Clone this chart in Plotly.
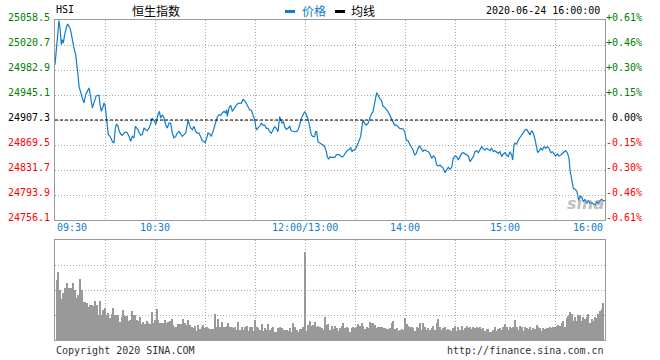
import plotly.graph_objects as go

# ---------------- data ----------------
# minute index from 09:30 (0) to 16:00 (330), lunch break removed (12:00 == 13:00 == 150)
minutes = [0, 1.0, 1.8, 2.4, 3.0, 3.4, 3.8, 4.4, 5.0, 5.8, 6.4, 7.0, 7.6, 8.4, 9.0, 9.4, 10.4, 11.4, 12.4,
           13.4, 13.8, 14.4, 15.4, 16.4, 17.4, 18.4, 19.4, 20.4, 21.0, 21.8, 22.4, 23.0, 23.8, 24.6, 25.4,
           26.4, 27.0, 27.8, 28.6, 29.4, 30.0, 30.6, 31.4, 32.0, 33.0, 33.8, 34.6, 35.4, 36.2, 37.0, 37.8,
           38.6, 39.4, 40.4, 41.4, 42.4, 43.4, 44.4, 45.4, 46.4, 47.4, 48.2, 49.0, 49.8, 50.6, 51.4, 52.4,
           53.4, 54.4, 55.4, 56.4, 57.4, 58.2, 59.0, 59.8, 60.4, 61.0, 61.8, 62.6, 63.4, 64.4, 65.4, 66.4,
           67.4, 68.4, 69.4, 70.4, 71.4, 72.4, 73.4, 74.4, 75.4, 76.4, 77.4, 78.4, 79.4, 80.0, 80.6, 81.4,
           82.4, 83.4, 84.4, 85.4, 86.4, 87.4, 88.4, 89.4, 90.0, 91.0, 91.8, 92.8, 93.8, 94.8, 95.8, 96.6,
           97.4, 98.4, 99.4, 100.4, 101.4, 102.4, 103.0, 103.4, 104.4, 105.4, 106.4, 107.4, 108.4, 109.4,
           110.6, 111.8, 112.8, 113.8, 114.8, 115.8, 116.8, 117.8, 118.8, 119.8, 120.8, 121.8, 122.8, 123.8,
           124.8, 125.8, 126.8, 127.8, 128.8, 129.8, 130.8, 131.8, 132.8, 133.8, 134.8, 135.4, 136.2, 137.0,
           137.8, 138.8, 139.8, 140.8, 141.4, 142.2, 143.0, 143.8, 144.8, 145.8, 146.8, 147.8, 148.8, 149.8,
           150.4, 151.2, 152.0, 152.8, 153.8, 154.8, 155.8, 156.4, 157.0, 157.8, 158.8, 159.8, 160.8, 161.8,
           162.8, 163.4, 164.2, 165.0, 165.8, 166.8, 167.8, 168.8, 169.8, 170.8, 171.8, 172.8, 173.8, 174.8,
           175.8, 176.8, 177.4, 178.2, 178.8, 179.8, 180.8, 181.8, 182.8, 183.4, 184.2, 184.8, 185.8, 186.8,
           187.8, 188.8, 189.8, 190.8, 191.8, 192.4, 193.0, 193.8, 194.8, 195.8, 196.8, 197.8, 198.8, 199.8,
           200.8, 201.8, 202.8, 203.8, 204.8, 205.8, 206.8, 207.8, 208.8, 209.8, 210.8, 211.8, 212.8, 213.8,
           214.8, 215.8, 216.8, 217.8, 218.8, 219.8, 220.8, 221, 222, 223, 224, 225, 226, 227, 228, 229, 230,
           231, 232, 233, 234, 235, 236, 237, 238, 239, 240, 241, 242, 243, 244, 245, 246, 247, 248, 249, 250,
           251, 252, 253, 254, 255, 256, 257, 258, 259, 260, 261, 262, 263, 264, 265, 266, 267, 268, 269, 270,
           271, 272, 273, 274, 274.6, 275.4, 276, 277, 278, 279, 280, 281, 282, 283, 284, 285, 286, 287, 288,
           289, 289.6, 290.6, 291.4, 292.4, 293.4, 294.4, 295.4, 296.4, 297.4, 298.4, 299.4, 300.4, 301.4,
           302.4, 303.4, 304.4, 305.4, 306.4, 307.4, 308.4, 309, 309.6, 310.2, 311, 312, 313, 313.6, 314.2,
           315, 316, 317, 318, 319, 320, 321, 322, 323, 324, 325, 326, 327, 328, 329, 330]

prices = [24990.9, 25018.7, 25041.3, 25057.5, 25046.4, 25023.7, 25021.2, 25028.7, 25023.7, 25036.3, 25043.9,
          25048.9, 25052.4, 25048.9, 25046.4, 25042.3, 25026.2, 25016.1, 25006.1, 24988.4, 24975.8, 24958.2,
          24948.1, 24940.5, 24933.0, 24945.6, 24950.6, 24955.7, 24948.1, 24935.5, 24925.4, 24930.5, 24938.0,
          24943.1, 24944.6, 24944.6, 24930.5, 24920.4, 24925.4, 24933.0, 24930.5, 24915.3, 24897.7, 24885.1,
          24882.6, 24877.5, 24874.0, 24872.5, 24895.2, 24901.2, 24897.7, 24890.1, 24886.1, 24884.1, 24887.6,
          24889.1, 24887.6, 24882.6, 24875.0, 24882.6, 24880.1, 24897.7, 24895.2, 24892.7, 24887.6, 24884.1,
          24885.1, 24895.2, 24892.7, 24891.2, 24895.2, 24901.2, 24910.3, 24907.8, 24905.3, 24900.2, 24907.8,
          24915.3, 24920.4, 24910.3, 24915.3, 24910.3, 24900.2, 24895.2, 24902.7, 24902.7, 24887.6, 24880.1,
          24882.6, 24887.6, 24890.1, 24885.1, 24882.6, 24885.1, 24887.6, 24900.2, 24907.8, 24900.2, 24895.2,
          24892.7, 24897.7, 24890.1, 24887.6, 24887.6, 24882.6, 24876.0, 24875.0, 24872.5, 24880.1, 24887.6,
          24886.1, 24882.6, 24890.1, 24897.7, 24905.3, 24911.8, 24915.3, 24914.3, 24917.9, 24920.4, 24917.9,
          24922.9, 24912.8, 24925.4, 24929.5, 24920.4, 24924.4, 24927.9, 24931.5, 24933.0, 24932.5, 24938.5,
          24936.5, 24932.5, 24927.4, 24922.4, 24922.4, 24914.8, 24907.3, 24892.2, 24894.7, 24898.2, 24902.2,
          24899.7, 24899.7, 24894.7, 24894.7, 24889.6, 24887.1, 24892.2, 24897.2, 24894.7, 24889.6, 24912.3,
          24907.3, 24902.2, 24904.8, 24897.2, 24893.2, 24894.7, 24898.2, 24892.2, 24890.6, 24889.6, 24889.6,
          24889.6, 24892.2, 24899.7, 24909.8, 24914.8, 24919.9, 24917.4, 24912.3, 24907.3, 24897.2, 24884.6,
          24882.1, 24882.1, 24889.6, 24889.6, 24874.5, 24872.0, 24871.0, 24869.5, 24867.0, 24859.4, 24851.8,
          24847.8, 24851.8, 24850.8, 24850.8, 24850.8, 24854.4, 24855.4, 24854.4, 24851.8, 24851.8, 24855.9,
          24859.4, 24861.9, 24862.9, 24865.9, 24859.4, 24861.9, 24861.9, 24865.9, 24872.0, 24877.0, 24882.1,
          24897.2, 24907.3, 24902.2, 24899.7, 24902.2, 24909.8, 24916.4, 24919.9, 24932.5, 24942.6, 24948.6,
          24945.1, 24940.0, 24937.5, 24928.4, 24926.4, 24923.4, 24919.9, 24914.8, 24909.8, 24904.8, 24899.7,
          24899.7, 24897.2, 24894.7, 24894.2, 24893.7, 24889.6, 24877.0, 24876.0, 24869.5, 24866.0, 24861.9,
          24854.4, 24856.9, 24864.4, 24867.9, 24864.4, 24859.4, 24860.9, 24861.9, 24860.4, 24859.4, 24855.9,
          24849.4, 24852.9, 24850.9, 24839.3, 24837.8, 24839.3, 24836.8, 24834.2, 24827.7, 24831.7, 24835.8,
          24832.7, 24835.8, 24849.4, 24852.9, 24851.9, 24846.8, 24851.9, 24856.9, 24857.9, 24855.9, 24854.4,
          24852.9, 24844.3, 24847.8, 24851.9, 24859.4, 24860.9, 24857.9, 24861.9, 24867.0, 24863.5, 24861.9,
          24864.5, 24863.0, 24860.9, 24864.5, 24859.4, 24860.9, 24859.4, 24856.9, 24859.4, 24851.9, 24855.9,
          24857.9, 24854.4, 24851.9, 24859.4, 24854.4, 24846.8, 24869.5, 24872.0, 24871.0, 24877.1, 24882.1,
          24884.6, 24888.2, 24892.2, 24893.2, 24889.7, 24884.6, 24891.2, 24887.2, 24878.1, 24867.0, 24857.9,
          24860.9, 24864.5, 24861.9, 24867.0, 24864.5, 24867.0, 24864.5, 24857.9, 24859.4, 24855.9, 24852.9,
          24855.9, 24852.9, 24854.4, 24856.9, 24859.4, 24860.9, 24857.9, 24849.4, 24831.7, 24821.6, 24811.6,
          24804.0, 24802.5, 24800.0, 24793.9, 24785.4, 24792.4, 24791.4, 24783.8, 24787.4, 24781.3, 24785.4,
          24781.3, 24782.3, 24780.3, 24778.8, 24783.8, 24781.3, 24785.4, 24787.4, 24785.4, 24785.4]

# volume (relative units), morning minutes 1..150, afternoon minutes 151..
vol_am = [60, 68, 50, 41, 47, 52, 57, 52, 52, 52, 57, 50, 42, 45, 61, 50, 38, 38, 37, 33,
          35, 35, 34, 39, 35, 25, 39, 25, 30, 32, 25, 27, 22, 26, 32, 25, 25, 25, 18, 23,
          30, 24, 24, 19, 20, 29, 25, 25, 20, 19, 23, 16, 18, 16, 19, 17, 16, 28, 17, 20,
          31, 20, 17, 17, 17, 20, 17, 18, 19, 21, 15, 13, 13, 16, 16, 16, 21, 17, 15, 20,
          15, 13, 12, 14, 9, 15, 11, 13, 15, 12, 13, 12, 11, 11, 11, 26, 13, 21, 13, 18,
          13, 13, 14, 17, 13, 13, 12, 13, 10, 18, 10, 13, 10, 13, 14, 9, 13, 13, 9, 20,
          13, 12, 10, 16, 9, 12, 10, 16, 10, 12, 13, 8, 8, 12, 13, 12, 10, 10, 10, 9,
          12, 8, 17, 13, 10, 8, 11, 11, 13, 88]
vol_pm = [9, 15, 19, 14, 15, 18, 13, 14, 13, 12, 10, 23, 15, 16,
          10, 14, 11, 14, 12, 9, 12, 14, 17, 12, 13, 12, 8, 12, 13, 12, 13, 16, 14, 17,
          14, 11, 13, 12, 18, 17, 17, 15, 12, 13, 13, 13, 12, 12, 11, 11, 12, 17, 19, 11,
          12, 9, 10, 11, 10, 22, 16, 14, 13, 13, 12, 9, 13, 12, 17, 10, 17, 13, 10, 12,
          10, 12, 14, 10, 17, 21, 13, 10, 12, 13, 10, 11, 10, 9, 12, 14, 9, 13, 10, 14,
          10, 12, 14, 12, 13, 11, 13, 12, 13, 12, 13, 11, 12, 9, 11, 11, 8, 8, 10, 13,
          9, 11, 12, 10, 13, 16, 13, 10, 13, 12, 13, 20, 13, 10, 14, 13, 9, 13, 12, 11,
          13, 10, 12, 11, 15, 13, 12, 9, 12, 11, 12, 12, 13, 12, 13, 13, 14, 15, 14, 17,
          19, 13, 22, 24, 28, 26, 19, 23, 19, 25, 25, 19, 23, 21, 23, 26, 17, 21, 19, 23,
          22, 26, 29, 31, 37]

prev_close = 24907.3
price_ticks = [25058.5, 25020.7, 24982.9, 24945.1, 24907.3, 24869.5, 24831.7, 24793.9, 24756.1]
pct_labels = ["+0.61%", "+0.46%", "+0.30%", "+0.15%", "0.00%", "-0.15%", "-0.30%", "-0.46%", "-0.61%"]
time_ticks = [0, 60, 150, 210, 270, 330]
time_labels = ["09:30", "10:30", "12:00/13:00", "14:00", "15:00", "16:00"]
grid_minutes = [30, 60, 90, 120, 150, 180, 210, 240, 270, 300]
vol_grid = [25, 50, 75]

# ---------------- style ----------------
BLUE = "#0f7dcf"
GRID = "#ababab"
BORDER = "#9a9a9a"
GREEN = "#008000"
RED = "#ff0000"
MONO = "DejaVu Sans Mono"
CJK = "Noto Sans CJK SC"
W, H = 660, 360
L, R = 55, 605

vol_x = list(range(1, len(vol_am) + 1)) + list(range(151, 151 + len(vol_pm)))

fig = go.Figure()
fig.add_trace(go.Scatter(x=minutes, y=prices, mode="lines", line=dict(color=BLUE, width=1.2),
                         xaxis="x", yaxis="y", hoverinfo="skip"))
fig.add_trace(go.Bar(x=vol_x, y=vol_am + vol_pm, width=0.5,
                     marker=dict(color="#999999", line=dict(width=0)),
                     xaxis="x2", yaxis="y2", hoverinfo="skip"))

axis_common = dict(showgrid=True, gridcolor=GRID, griddash="1px,2px", gridwidth=1,
                   showline=True, mirror=True, linecolor=BORDER, linewidth=1,
                   zeroline=False, showticklabels=False, ticks="", fixedrange=True)

fig.update_layout(
    width=W, height=H, autosize=False,
    margin=dict(l=0, r=0, t=0, b=0),
    paper_bgcolor="white", plot_bgcolor="white",
    showlegend=False,
    xaxis=dict(domain=[L / W, R / W], range=[0, 330], tickvals=grid_minutes, anchor="y", **axis_common),
    yaxis=dict(domain=[1 - 220 / H, 1 - 20 / H], range=[price_ticks[-1], price_ticks[0]],
               tickvals=price_ticks[1:-1], anchor="x", **axis_common),
    xaxis2=dict(domain=[L / W, R / W], range=[0, 330], tickvals=grid_minutes, anchor="y2", **axis_common),
    yaxis2=dict(domain=[1 - 340 / H, 1 - 240 / H], range=[0, 100], tickvals=vol_grid, anchor="x2", **axis_common),
)

# previous-close dashed line
fig.add_shape(type="line", xref="x", yref="y", x0=0, x1=330, y0=prev_close, y1=prev_close,
              line=dict(color="black", width=1, dash="3px,2px"))

ann = []
# left price labels and right percentage labels
for v, pl in zip(price_ticks, pct_labels):
    col = GREEN if v > prev_close else (RED if v < prev_close else "black")
    ann.append(dict(xref="paper", yref="y", x=52 / W, y=v, yshift=3, xanchor="right", yanchor="middle",
                    text=f"{v:.1f}", showarrow=False, font=dict(family=MONO, size=10, color=col)))
    ann.append(dict(xref="paper", yref="y", x=644 / W, y=v, yshift=3, xanchor="right", yanchor="middle",
                    text=pl, showarrow=False, font=dict(family=MONO, size=10, color=col)))

# time labels
for t, lab in zip(time_ticks, time_labels):
    anchor = "left" if t == time_ticks[0] else ("right" if t == time_ticks[-1] else "center")
    ann.append(dict(xref="x", yref="paper", x=t, y=1 - 227 / H, xanchor=anchor, yanchor="middle",
                    text=lab, showarrow=False, font=dict(family=MONO, size=10, color=BLUE)))

# header
ann += [
    dict(xref="paper", yref="paper", x=54 / W, y=1 - 9 / H, xanchor="left", yanchor="middle",
         text="HSI", showarrow=False, font=dict(family=MONO, size=10, color="black")),
    dict(xref="paper", yref="paper", x=130 / W, y=1 - 10 / H, xanchor="left", yanchor="middle",
         text="恒生指数", showarrow=False, font=dict(family=CJK, size=12, color="black")),
    dict(xref="paper", yref="paper", x=300 / W, y=1 - 10 / H, xanchor="left", yanchor="middle",
         text="价格", showarrow=False, font=dict(family=CJK, size=12, color=BLUE)),
    dict(xref="paper", yref="paper", x=349 / W, y=1 - 10 / H, xanchor="left", yanchor="middle",
         text="均线", showarrow=False, font=dict(family=CJK, size=12, color="black")),
    dict(xref="paper", yref="paper", x=602 / W, y=1 - 10 / H, xanchor="right", yanchor="middle",
         text="2020-06-24 16:00:00", showarrow=False, font=dict(family=MONO, size=10, color="black")),
    dict(xref="paper", yref="paper", x=54 / W, y=1 - 350 / H, xanchor="left", yanchor="middle",
         text="Copyright 2020 SINA.COM", showarrow=False, font=dict(family=MONO, size=10, color="#333333")),
    dict(xref="paper", yref="paper", x=606 / W, y=1 - 350 / H, xanchor="right", yanchor="middle",
         text="http://finance.sina.com.cn", showarrow=False, font=dict(family=MONO, size=10, color="#333333")),
    dict(xref="paper", yref="paper", x=585 / W, y=1 - 203 / H, xanchor="center", yanchor="middle",
         text="<b><i>sina</i></b>", showarrow=False, opacity=0.55,
         font=dict(family="DejaVu Sans", size=16, color="#8c8c8c")),
]
fig.update_layout(annotations=ann)

# legend swatches
fig.add_shape(type="rect", xref="paper", yref="paper", x0=285 / W, x1=295 / W, y0=1 - 13 / H, y1=1 - 10 / H,
              line=dict(width=0), fillcolor=BLUE)
fig.add_shape(type="rect", xref="paper", yref="paper", x0=335 / W, x1=345 / W, y0=1 - 13 / H, y1=1 - 10 / H,
              line=dict(width=0), fillcolor="black")

fig.write_html("out.html", config={"displayModeBar": False},
               post_script="document.body.style.margin='0px';document.body.style.padding='0px';"
                           "document.documentElement.style.overflow='hidden';")
